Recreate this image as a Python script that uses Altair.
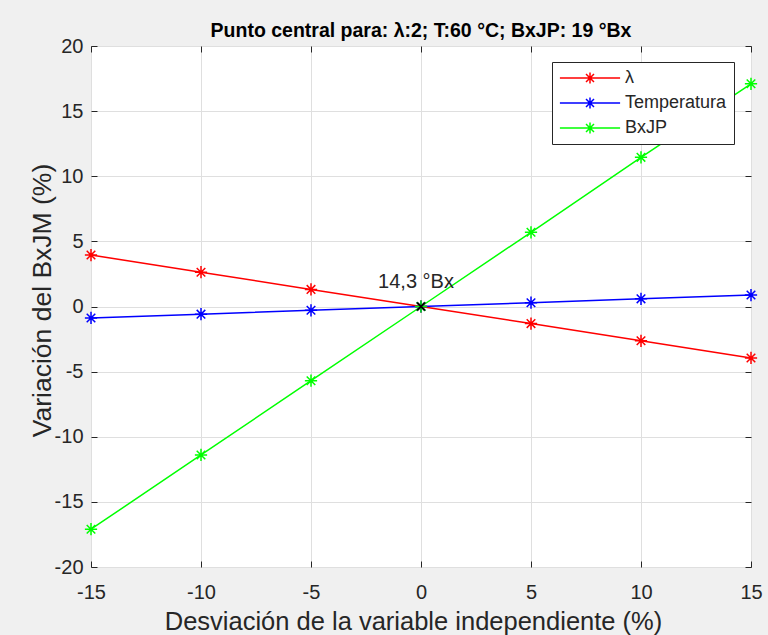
import altair as alt
import pandas as pd

# ---- data ----
x_vals = [-15, -10, -5, 0, 5, 10, 15]
lam_vals = [3.95, 2.63, 1.31, 0.0, -1.31, -2.63, -3.95]
temp_vals = [-0.88, -0.59, -0.29, 0.0, 0.29, 0.59, 0.88]
bxjp_vals = [-17.1, -11.4, -5.7, 0.0, 5.7, 11.45, 17.1]
series_names = ["λ", "Temperatura", "BxJP"]
series_colors = ["#ff0000", "#0000ff", "#00ff00"]
x_ticks = [-15, -10, -5, 0, 5, 10, 15]
y_ticks = [-20, -15, -10, -5, 0, 5, 10, 15, 20]
center_x = [0]
center_y = [0]
note_x = [-1.95]
note_y = [1.42]
note_text = ["14,3 °Bx"]

rows = []
for name, vals in zip(series_names, [lam_vals, temp_vals, bxjp_vals]):
    for xv, yv in zip(x_vals, vals):
        rows.append({"x": xv, "y": yv, "serie": name})
df = pd.DataFrame(rows)
df_center = pd.DataFrame({"x": center_x, "y": center_y})
df_note = pd.DataFrame({"x": note_x, "y": note_y, "t": note_text})

FONT = "Liberation Sans"
AX = "#262626"
ASTER = "M-1,0H1M0,-1V1M-0.7,-0.7L0.7,0.7M-0.7,0.7L0.7,-0.7"
XMARK = "M-0.7,-0.7L0.7,0.7M-0.7,0.7L0.7,-0.7"
LEG_SYM = ("M-4.3,0H4.3M0,-0.8V0.8M-0.8,0H0.8"
           "M-0.57,-0.57L0.57,0.57M-0.57,0.57L0.57,-0.57")

xscale = alt.Scale(domain=[-15, 15], nice=False, zero=False)
yscale = alt.Scale(domain=[-20, 20], nice=False, zero=False)
cscale = alt.Scale(domain=series_names, range=series_colors)

xaxis = alt.Axis(values=x_ticks, title="Desviación de la variable independiente (%)",
                 labelExpr="toString(datum.value)",
                 labelFontSize=20, labelFont=FONT, labelColor=AX, labelPadding=15,
                 titleFontSize=25.5, titleFont=FONT, titleColor=AX, titleFontWeight="normal",
                 titleX=322, titleY=62, titleBaseline="alphabetic",
                 tickSize=0, domain=False, grid=True, gridColor="#dfdfdf",
                 labelFlush=False)
yaxis = alt.Axis(values=y_ticks, title="Variación del BxJM (%)",
                 labelExpr="toString(datum.value)",
                 labelFontSize=20, labelFont=FONT, labelColor=AX, labelPadding=8,
                 titleFontSize=26.5, titleFont=FONT, titleColor=AX, titleFontWeight="normal",
                 titleX=-41, titleY=254, titleBaseline="alphabetic", tickSize=0, domain=False,
                 grid=True, gridColor="#dfdfdf", labelFlush=False)


def tick_axis(vals, orient):
    return alt.Axis(values=vals, orient=orient, offset=-6, tickSize=6, tickColor=AX,
                    tickWidth=1, labels=False, domain=False, grid=False, title=None)


base = alt.Chart(df)

lines = base.mark_line(strokeWidth=1.5).encode(
    x=alt.X("x:Q", scale=xscale, axis=xaxis),
    y=alt.Y("y:Q", scale=yscale, axis=yaxis),
    color=alt.Color("serie:N", scale=cscale, sort=series_names,
                    legend=alt.Legend(
                        title=None, orient="none", legendX=461, legendY=16,
                        symbolType=LEG_SYM, symbolSize=196, symbolStrokeWidth=1.5,
                        symbolOffset=22, labelOffset=26,
                        labelFontSize=18, labelFont=FONT, labelColor=AX,
                        fillColor="white", strokeColor=AX, padding=7,
                        rowPadding=7)),
)

pts = base.mark_point(shape=ASTER, filled=False, size=150, strokeWidth=1.5, opacity=1).encode(
    x=alt.X("x:Q", scale=xscale, axis=None),
    y=alt.Y("y:Q", scale=yscale, axis=None),
    color=alt.Color("serie:N", scale=cscale, legend=None),
)

center = alt.Chart(df_center).mark_point(shape=XMARK, filled=False, size=120,
                                          strokeWidth=2, color="black", opacity=1).encode(
    x=alt.X("x:Q", scale=xscale, axis=None),
    y=alt.Y("y:Q", scale=yscale, axis=None))

note = alt.Chart(df_note).mark_text(align="left", baseline="alphabetic", fontSize=20,
                                    font=FONT, color=AX).encode(
    x=alt.X("x:Q", scale=xscale, axis=None),
    y=alt.Y("y:Q", scale=yscale, axis=None), text="t:N")

# inward tick marks on all four sides (MATLAB box style)
tk_bottom = base.mark_point(opacity=0).encode(
    x=alt.X("x:Q", scale=xscale, axis=tick_axis(x_ticks, "bottom")),
    y=alt.Y("y:Q", scale=yscale, axis=None))
tk_top = base.mark_point(opacity=0).encode(
    x=alt.X("x:Q", scale=xscale, axis=tick_axis(x_ticks, "top")),
    y=alt.Y("y:Q", scale=yscale, axis=None))
tk_left = base.mark_point(opacity=0).encode(
    x=alt.X("x:Q", scale=xscale, axis=None),
    y=alt.Y("y:Q", scale=yscale, axis=tick_axis(y_ticks, "left")))
tk_right = base.mark_point(opacity=0).encode(
    x=alt.X("x:Q", scale=xscale, axis=None),
    y=alt.Y("y:Q", scale=yscale, axis=tick_axis(y_ticks, "right")))

chart = alt.layer(lines, pts, center, note, tk_bottom, tk_top, tk_left, tk_right).resolve_axis(
    x="independent", y="independent"
).properties(
    width=660, height=521,
    title=alt.TitleParams("Punto central para: λ:2; T:60 °C; BxJP: 19 °Bx",
                          fontSize=19.5, fontWeight="bold", font=FONT, color="black",
                          anchor="middle", offset=-20, baseline="alphabetic"),
    background="#f0f0f0",
    autosize=alt.AutoSizeParams(type="none"),
    padding={"left": 91, "top": 46, "right": 17, "bottom": 68},
).configure_view(fill="white", stroke=AX, strokeWidth=1)

chart.save("out.html", embed_options={"renderer": "svg", "actions": False})
